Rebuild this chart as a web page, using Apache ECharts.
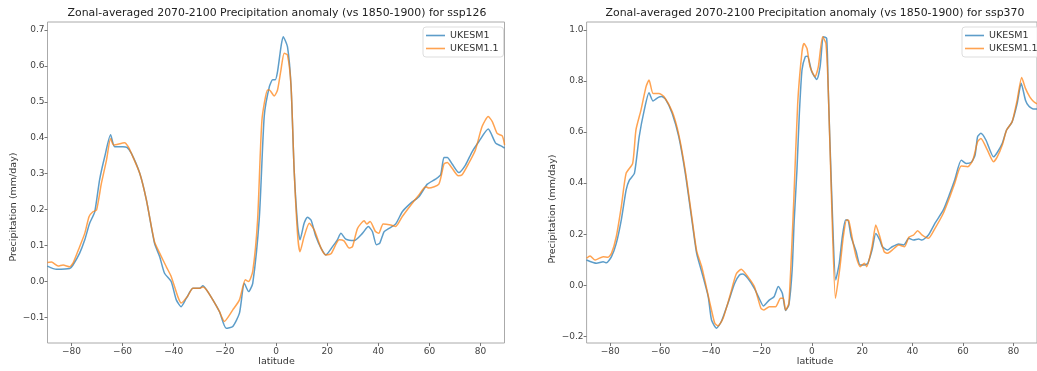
<!DOCTYPE html>
<html>
<head>
<meta charset="utf-8">
<script src="https://cdn.jsdelivr.net/npm/echarts@6/dist/echarts.min.js"></script>
<style>
  html, body { margin: 0; padding: 0; background: #fff; }
  #main { width: 1037px; height: 371px; }
</style>
</head>
<body>
<div id="main"></div>
<script>
// ssp126 panel
const latA1 = [-89.4,-85.9,-80.7,-79.4,-76.8,-74.8,-72.9,-70.9,-69.0,-67.0,-64.7,-63.1,-59.9,-58.3,-56.6,-53.3,-50.7,-47.5,-45.5,-43.6,-41.0,-39.0,-37.1,-35.1,-32.5,-29.9,-28.6,-27.3,-24.7,-22.1,-19.5,-16.9,-14.3,-12.4,-10.7,-9.1,-6.5,-4.6,-2.6,-1.3,-0.3,0.6,1.95,2.8,4.5,5.9,7.1,8.5,9.4,11.0,12.3,13.7,15.6,17.6,19.5,22.1,24.0,25.4,27.3,30.6,33.8,36.1,37.7,39.3,40.6,42.3,44.2,46.8,49.4,52.7,55.9,59.2,62.4,64.4,65.7,67.0,68.9,71.5,74.1,76.7,79.3,83.0,85.9,87.8,89.4];
const valA1 = [0.043,0.034,0.036,0.046,0.079,0.116,0.162,0.194,0.283,0.347,0.408,0.375,0.375,0.373,0.357,0.301,0.227,0.106,0.069,0.023,0.0,-0.051,-0.070,-0.047,-0.019,-0.019,-0.012,-0.022,-0.051,-0.084,-0.130,-0.125,-0.088,-0.005,-0.028,-0.005,0.18,0.46,0.542,0.561,0.561,0.584,0.653,0.681,0.653,0.542,0.31,0.153,0.116,0.162,0.179,0.171,0.125,0.093,0.074,0.097,0.116,0.134,0.118,0.114,0.134,0.153,0.139,0.102,0.107,0.139,0.148,0.160,0.194,0.218,0.236,0.271,0.285,0.297,0.345,0.345,0.327,0.303,0.324,0.361,0.389,0.424,0.385,0.378,0.371];
const latA2 = [-89.4,-87.8,-85.2,-83.3,-80.7,-79.4,-76.8,-74.8,-73.1,-71.6,-70.2,-68.3,-66.3,-64.7,-63.5,-59.2,-57.8,-56.6,-53.3,-50.7,-47.5,-45.5,-42.9,-41.0,-38.4,-37.1,-34.5,-32.5,-29.9,-28.6,-27.3,-24.7,-22.1,-20.2,-16.9,-14.3,-12.0,-10.7,-9.1,-7.2,-5.5,-3.3,-2.6,-0.7,0.6,1.95,3.2,4.5,5.9,7.1,8.5,9.4,11.0,13.0,15.0,17.6,19.5,21.5,24.7,26.6,28.6,29.9,31.9,34.5,35.5,36.8,38.9,40.2,41.9,44.9,46.8,49.4,53.3,55.9,58.5,59.8,63.7,65.7,67.0,68.9,71.3,72.8,75.4,78.0,80.6,83.0,84.6,86.5,88.5,89.4];
const valA2 = [0.053,0.054,0.043,0.046,0.041,0.051,0.097,0.134,0.181,0.194,0.199,0.273,0.338,0.398,0.380,0.386,0.375,0.357,0.301,0.227,0.11,0.079,0.041,0.014,-0.042,-0.060,-0.040,-0.019,-0.019,-0.015,-0.022,-0.051,-0.084,-0.111,-0.079,-0.051,0.005,0.0,0.028,0.171,0.449,0.533,0.533,0.516,0.533,0.589,0.635,0.63,0.542,0.31,0.125,0.083,0.125,0.162,0.143,0.093,0.074,0.077,0.116,0.113,0.093,0.097,0.148,0.169,0.160,0.167,0.139,0.134,0.160,0.157,0.153,0.181,0.218,0.241,0.264,0.260,0.271,0.327,0.331,0.315,0.294,0.297,0.329,0.366,0.431,0.459,0.445,0.412,0.405,0.38];

// ssp370 panel
const latB1 = [-89.4,-85.4,-82.8,-81.5,-79.5,-77.6,-75.6,-73.7,-72.4,-70.4,-68.5,-66.5,-64.6,-63.0,-60.9,-59.6,-58.0,-55.4,-52.8,-50.2,-47.6,-45.7,-43.7,-41.1,-39.8,-37.8,-35.9,-33.3,-30.6,-28.7,-27.4,-25.4,-22.8,-20.9,-19.2,-16.9,-15.0,-13.3,-11.7,-10.4,-9.1,-7.8,-7.0,-5.9,-5.0,-3.9,-2.6,-1.7,0.0,2.0,3.3,4.6,5.9,6.5,7.8,9.5,10.9,12.1,13.4,14.3,15.6,17.6,19.2,20.9,22.2,23.9,25.4,27.0,28.0,30.0,31.9,34.5,36.5,38.5,40.4,42.4,43.7,46.3,48.9,52.2,54.8,56.7,59.3,61.3,63.3,64.8,65.8,67.1,69.1,72.1,73.6,75.6,77.3,79.5,81.5,83.1,84.8,86.1,88.0,89.4];
const valB1 = [0.099,0.086,0.092,0.088,0.112,0.164,0.256,0.373,0.412,0.438,0.582,0.686,0.754,0.722,0.736,0.739,0.728,0.673,0.582,0.438,0.256,0.125,0.053,-0.045,-0.136,-0.168,-0.142,-0.071,0.008,0.04,0.044,0.027,-0.012,-0.051,-0.081,-0.058,-0.045,-0.005,-0.031,-0.099,-0.077,0.06,0.25,0.451,0.66,0.843,0.895,0.897,0.836,0.806,0.856,0.973,0.967,0.777,0.386,0.021,0.086,0.19,0.256,0.256,0.19,0.132,0.079,0.079,0.086,0.138,0.203,0.177,0.151,0.138,0.151,0.162,0.158,0.184,0.177,0.181,0.177,0.197,0.243,0.295,0.36,0.412,0.49,0.477,0.482,0.51,0.582,0.595,0.569,0.503,0.52,0.556,0.608,0.64,0.712,0.791,0.725,0.702,0.69,0.69];
const latB2 = [-89.4,-88.0,-86.0,-82.8,-80.9,-79.5,-77.6,-75.6,-73.7,-71.1,-69.8,-67.8,-65.8,-64.6,-63.0,-60.7,-58.7,-55.4,-52.8,-50.2,-47.6,-45.7,-43.7,-40.4,-38.5,-37.2,-35.2,-32.6,-30.0,-28.0,-25.4,-22.8,-20.2,-19.0,-16.9,-14.4,-12.4,-11.3,-10.4,-9.1,-7.2,-5.6,-3.9,-3.1,-1.9,-0.7,1.3,2.6,4.3,5.6,6.5,7.8,9.4,11.2,12.5,13.8,14.7,16.3,17.6,19.2,20.9,21.8,23.9,25.4,27.0,28.7,30.0,31.9,34.5,36.8,38.5,40.4,42.0,43.7,46.3,48.9,52.2,54.8,56.7,59.3,61.9,63.9,65.8,67.1,69.7,72.1,73.6,75.6,77.3,79.5,81.5,83.3,84.8,86.5,88.0,89.4];
const valB2 = [0.106,0.115,0.099,0.112,0.11,0.125,0.19,0.308,0.438,0.477,0.608,0.686,0.777,0.804,0.751,0.751,0.739,0.68,0.59,0.448,0.266,0.135,0.073,-0.071,-0.149,-0.159,-0.129,-0.045,0.044,0.063,0.034,-0.005,-0.09,-0.097,-0.084,-0.084,-0.051,-0.051,-0.097,-0.071,0.321,0.712,0.914,0.947,0.927,0.856,0.817,0.856,0.973,0.947,0.777,0.347,-0.051,0.073,0.19,0.256,0.253,0.171,0.112,0.073,0.086,0.073,0.151,0.236,0.19,0.132,0.125,0.138,0.158,0.151,0.188,0.197,0.214,0.197,0.184,0.223,0.282,0.347,0.399,0.467,0.464,0.49,0.562,0.575,0.529,0.484,0.503,0.549,0.608,0.64,0.725,0.814,0.771,0.738,0.72,0.71];

const xTicks = [-80, -60, -40, -20, 0, 20, 40, 60, 80];
const yTicksA = [-0.1, 0.0, 0.1, 0.2, 0.3, 0.4, 0.5, 0.6, 0.7];
const yTicksB = [-0.2, 0.0, 0.2, 0.4, 0.6, 0.8, 1.0];
const names = ['UKESM1', 'UKESM1.1'];
const titles = [
  'Zonal-averaged 2070-2100 Precipitation anomaly (vs 1850-1900) for ssp126',
  'Zonal-averaged 2070-2100 Precipitation anomaly (vs 1850-1900) for ssp370'
];

const FONT = 'DejaVu Sans';
const BLUE = 'rgba(31,119,180,0.72)';
const ORANGE = 'rgba(255,127,14,0.72)';

function pairs(lat, val) {
  return lat.map((l, i) => [l, val[i]]);
}
function minus(v) {
  return String(v).replace('-', '\u2212');
}

const gridLeft = [47.5, 586.6];
const gridW = 457;

function xAxisFor(idx) {
  return {
    type: 'value', gridIndex: idx, min: -89.375, max: 89.375,
    axisLine: { show: false, onZero: false },
    splitLine: { show: false },
    axisTick: { show: true, length: 3, customValues: xTicks, lineStyle: { color: '#777' } },
    axisLabel: {
      customValues: xTicks, margin: 4, fontSize: 9, fontFamily: FONT, color: '#444',
      formatter: v => minus(v)
    }
  };
}
function yAxisFor(idx, lo, hi, ticks, digits) {
  return {
    type: 'value', gridIndex: idx, min: lo, max: hi,
    axisLine: { show: false, onZero: false },
    splitLine: { show: false },
    axisTick: { show: true, length: 3, customValues: ticks, lineStyle: { color: '#777' } },
    axisLabel: {
      customValues: ticks, margin: 3, fontSize: 9, fontFamily: FONT, color: '#444',
      formatter: v => minus(v.toFixed(digits))
    }
  };
}
function lineSeries(name, idx, data, color) {
  return {
    name: name, type: 'line', xAxisIndex: idx, yAxisIndex: idx,
    data: data, symbol: 'none', smooth: 0.2, animation: false,
    lineStyle: { color: color, width: 1.5 }, itemStyle: { color: color }
  };
}
function legendFor(left) {
  return {
    data: names, orient: 'vertical', left: left, top: 27,
    backgroundColor: 'rgba(255,255,255,0.85)', borderColor: '#ddd', borderWidth: 1, borderRadius: 3,
    padding: [3, 5, 3, 3], icon: 'rect', itemWidth: 19, itemHeight: 1.6, itemGap: 2,
    textStyle: { fontSize: 9.5, fontFamily: FONT, color: '#333', lineHeight: 11 }
  };
}

const chart = echarts.init(document.getElementById('main'));
chart.setOption({
  animation: false,
  grid: gridLeft.map(l => ({
    left: l, top: 22, width: gridW, height: 321,
    show: true, borderColor: '#aaa', borderWidth: 1, backgroundColor: 'transparent'
  })),
  xAxis: [xAxisFor(0), xAxisFor(1)],
  yAxis: [
    yAxisFor(0, -0.171, 0.722, yTicksA, 1),
    yAxisFor(1, -0.226, 1.031, yTicksB, 1)
  ],
  legend: [legendFor(423), legendFor(962)],
  series: [
    lineSeries(names[0], 0, pairs(latA1, valA1), BLUE),
    lineSeries(names[1], 0, pairs(latA2, valA2), ORANGE),
    lineSeries(names[0], 1, pairs(latB1, valB1), BLUE),
    lineSeries(names[1], 1, pairs(latB2, valB2), ORANGE)
  ],
  graphic: [
    { type: 'text', x: 277, y: 13, style: { text: titles[0], font: '10.9px "DejaVu Sans"', fill: '#222', textAlign: 'center', textVerticalAlign: 'middle' } },
    { type: 'text', x: 815, y: 13, style: { text: titles[1], font: '10.9px "DejaVu Sans"', fill: '#222', textAlign: 'center', textVerticalAlign: 'middle' } },
    { type: 'text', x: 276.5, y: 362, style: { text: 'latitude', font: '9.5px "DejaVu Sans"', fill: '#333', textAlign: 'center', textVerticalAlign: 'middle' } },
    { type: 'text', x: 815, y: 362, style: { text: 'latitude', font: '9.5px "DejaVu Sans"', fill: '#333', textAlign: 'center', textVerticalAlign: 'middle' } },
    { type: 'text', x: 14, y: 207, rotation: Math.PI / 2, style: { text: 'Precipitation (mm/day)', font: '9.5px "DejaVu Sans"', fill: '#333', textAlign: 'center', textVerticalAlign: 'middle' } },
    { type: 'text', x: 553, y: 209, rotation: Math.PI / 2, style: { text: 'Precipitation (mm/day)', font: '9.5px "DejaVu Sans"', fill: '#333', textAlign: 'center', textVerticalAlign: 'middle' } }
  ]
});
</script>
</body>
</html>
